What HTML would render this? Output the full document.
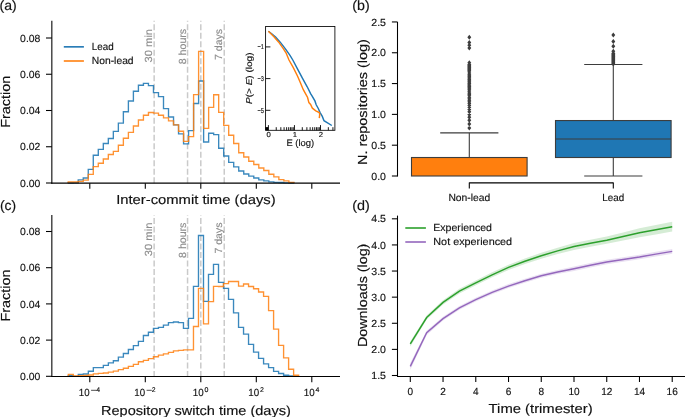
<!DOCTYPE html>
<html><head><meta charset="utf-8"><style>
html,body{margin:0;padding:0;background:#fff;width:685px;height:417px;overflow:hidden}
svg{display:block;will-change:transform}
text{font-family:"Liberation Sans", sans-serif;text-rendering:geometricPrecision}
</style></head><body>
<svg width="685" height="417" viewBox="0 0 685 417">
<rect width="685" height="417" fill="#fff"/>
<text x="-0.50" y="9.50" font-size="13.6" text-anchor="start" fill="#111" stroke="#111" stroke-width="0.15" textLength="17.20" lengthAdjust="spacingAndGlyphs">(a)</text>
<text x="352.30" y="9.50" font-size="13.6" text-anchor="start" fill="#111" stroke="#111" stroke-width="0.15" textLength="17.40" lengthAdjust="spacingAndGlyphs">(b)</text>
<text x="-0.10" y="209.50" font-size="13.6" text-anchor="start" fill="#111" stroke="#111" stroke-width="0.15" textLength="16.20" lengthAdjust="spacingAndGlyphs">(c)</text>
<text x="352.30" y="209.50" font-size="13.6" text-anchor="start" fill="#111" stroke="#111" stroke-width="0.15" textLength="17.60" lengthAdjust="spacingAndGlyphs">(d)</text>
<line x1="154.15" y1="183.13" x2="154.15" y2="20.80" stroke="#cacaca" stroke-width="1.5" stroke-dasharray="6 2.5" stroke-dashoffset="0.0"/>
<line x1="187.56" y1="183.13" x2="187.56" y2="20.80" stroke="#cacaca" stroke-width="1.5" stroke-dasharray="6 2.5" stroke-dashoffset="0.0"/>
<line x1="200.80" y1="183.13" x2="200.80" y2="20.80" stroke="#cacaca" stroke-width="1.5" stroke-dasharray="6 2.5" stroke-dashoffset="0.0"/>
<line x1="224.25" y1="183.13" x2="224.25" y2="20.80" stroke="#cacaca" stroke-width="1.5" stroke-dasharray="6 2.5" stroke-dashoffset="0.0"/>
<text x="152.25" y="28.90" font-size="10.3" text-anchor="end" fill="#8c8c8c" stroke="#8c8c8c" stroke-width="0.15" textLength="33.60" lengthAdjust="spacingAndGlyphs" transform="rotate(-90 152.25 28.90)">30 min</text>
<text x="185.66" y="28.90" font-size="10.3" text-anchor="end" fill="#8c8c8c" stroke="#8c8c8c" stroke-width="0.15" textLength="35.30" lengthAdjust="spacingAndGlyphs" transform="rotate(-90 185.66 28.90)">8 hours</text>
<text x="222.35" y="28.90" font-size="10.3" text-anchor="end" fill="#8c8c8c" stroke="#8c8c8c" stroke-width="0.15" textLength="31.00" lengthAdjust="spacingAndGlyphs" transform="rotate(-90 222.35 28.90)">7 days</text>
<path d="M68.20,183.13 L68.20,183.00 L73.22,183.00 L73.22,182.90 L78.23,182.90 L78.23,179.80 L83.25,179.80 L83.25,178.00 L88.26,178.00 L88.26,169.30 L93.28,169.30 L93.28,155.20 L98.29,155.20 L98.29,149.30 L103.31,149.30 L103.31,143.50 L108.32,143.50 L108.32,138.50 L113.34,138.50 L113.34,131.40 L118.36,131.40 L118.36,123.10 L123.37,123.10 L123.37,111.70 L128.39,111.70 L128.39,101.00 L133.40,101.00 L133.40,91.20 L138.42,91.20 L138.42,85.20 L143.43,85.20 L143.43,83.40 L148.45,83.40 L148.45,85.60 L153.47,85.60 L153.47,92.60 L158.48,92.60 L158.48,96.60 L163.50,96.60 L163.50,108.60 L168.51,108.60 L168.51,117.00 L173.53,117.00 L173.53,124.90 L178.54,124.90 L178.54,133.90 L183.56,133.90 L183.56,143.80 L188.57,143.80 L188.57,130.60 L193.59,130.60 L193.59,103.50 L198.61,103.50 L198.61,81.00 L203.62,81.00 L203.62,142.00 L208.64,142.00 L208.64,133.20 L213.65,133.20 L213.65,134.60 L218.67,134.60 L218.67,148.20 L223.68,148.20 L223.68,156.00 L228.70,156.00 L228.70,162.30 L233.71,162.30 L233.71,166.80 L238.73,166.80 L238.73,171.00 L243.75,171.00 L243.75,174.00 L248.76,174.00 L248.76,176.10 L253.78,176.10 L253.78,178.00 L258.79,178.00 L258.79,179.80 L263.81,179.80 L263.81,180.80 L268.82,180.80 L268.82,181.80 L273.84,181.80 L273.84,182.30 L278.86,182.30 L278.86,182.50 L283.87,182.50 L283.87,182.80 L288.89,182.80 L288.89,183.00 L293.90,183.00 L293.90,183.13" fill="none" stroke="#1f77b4" stroke-width="1.35" stroke-opacity="0.88" stroke-linejoin="miter"/>
<path d="M68.20,183.13 L68.20,182.00 L73.22,182.00 L73.22,182.00 L78.23,182.00 L78.23,181.30 L83.25,181.30 L83.25,180.10 L88.26,180.10 L88.26,174.40 L93.28,174.40 L93.28,166.60 L98.29,166.60 L98.29,163.20 L103.31,163.20 L103.31,159.00 L108.32,159.00 L108.32,154.50 L113.34,154.50 L113.34,151.40 L118.36,151.40 L118.36,145.20 L123.37,145.20 L123.37,138.20 L128.39,138.20 L128.39,132.40 L133.40,132.40 L133.40,126.00 L138.42,126.00 L138.42,120.00 L143.43,120.00 L143.43,115.20 L148.45,115.20 L148.45,112.50 L153.47,112.50 L153.47,113.10 L158.48,113.10 L158.48,115.20 L163.50,115.20 L163.50,117.90 L168.51,117.90 L168.51,120.80 L173.53,120.80 L173.53,124.90 L178.54,124.90 L178.54,131.20 L183.56,131.20 L183.56,141.40 L188.57,141.40 L188.57,136.60 L193.59,136.60 L193.59,94.60 L198.61,94.60 L198.61,51.40 L203.62,51.40 L203.62,128.40 L208.64,128.40 L208.64,107.30 L213.65,107.30 L213.65,94.70 L218.67,94.70 L218.67,112.30 L223.68,112.30 L223.68,125.30 L228.70,125.30 L228.70,135.20 L233.71,135.20 L233.71,143.50 L238.73,143.50 L238.73,152.70 L243.75,152.70 L243.75,157.00 L248.76,157.00 L248.76,161.20 L253.78,161.20 L253.78,164.50 L258.79,164.50 L258.79,168.00 L263.81,168.00 L263.81,170.50 L268.82,170.50 L268.82,174.20 L273.84,174.20 L273.84,176.80 L278.86,176.80 L278.86,179.60 L283.87,179.60 L283.87,180.80 L288.89,180.80 L288.89,182.30 L293.90,182.30 L293.90,183.13" fill="none" stroke="#ff7f0e" stroke-width="1.35" stroke-opacity="0.85" stroke-linejoin="miter"/>
<line x1="51.84" y1="20.80" x2="51.84" y2="183.63" stroke="#000" stroke-width="1.07" />
<line x1="51.30" y1="183.13" x2="340.00" y2="183.13" stroke="#000" stroke-width="1.07" />
<line x1="46.00" y1="183.00" x2="51.84" y2="183.00" stroke="#000" stroke-width="1.07" />
<text x="40.40" y="186.60" font-size="10.3" text-anchor="end" fill="#111" stroke="#111" stroke-width="0.15" textLength="20.30" lengthAdjust="spacingAndGlyphs">0.00</text>
<line x1="46.00" y1="146.75" x2="51.84" y2="146.75" stroke="#000" stroke-width="1.07" />
<text x="40.40" y="150.35" font-size="10.3" text-anchor="end" fill="#111" stroke="#111" stroke-width="0.15" textLength="20.30" lengthAdjust="spacingAndGlyphs">0.02</text>
<line x1="46.00" y1="110.50" x2="51.84" y2="110.50" stroke="#000" stroke-width="1.07" />
<text x="40.40" y="114.10" font-size="10.3" text-anchor="end" fill="#111" stroke="#111" stroke-width="0.15" textLength="20.30" lengthAdjust="spacingAndGlyphs">0.04</text>
<line x1="46.00" y1="74.25" x2="51.84" y2="74.25" stroke="#000" stroke-width="1.07" />
<text x="40.40" y="77.85" font-size="10.3" text-anchor="end" fill="#111" stroke="#111" stroke-width="0.15" textLength="20.30" lengthAdjust="spacingAndGlyphs">0.06</text>
<line x1="46.00" y1="38.00" x2="51.84" y2="38.00" stroke="#000" stroke-width="1.07" />
<text x="40.40" y="41.60" font-size="10.3" text-anchor="end" fill="#111" stroke="#111" stroke-width="0.15" textLength="20.30" lengthAdjust="spacingAndGlyphs">0.08</text>
<line x1="89.80" y1="183.13" x2="89.80" y2="188.83" stroke="#000" stroke-width="1.07" />
<line x1="145.30" y1="183.13" x2="145.30" y2="188.83" stroke="#000" stroke-width="1.07" />
<line x1="200.80" y1="183.13" x2="200.80" y2="188.83" stroke="#000" stroke-width="1.07" />
<line x1="256.30" y1="183.13" x2="256.30" y2="188.83" stroke="#000" stroke-width="1.07" />
<line x1="311.80" y1="183.13" x2="311.80" y2="188.83" stroke="#000" stroke-width="1.07" />
<text x="10.20" y="101.75" font-size="13.1" text-anchor="middle" fill="#111" stroke="#111" stroke-width="0.15" textLength="52.00" lengthAdjust="spacingAndGlyphs" transform="rotate(-90 10.20 101.75)">Fraction</text>
<text x="195.90" y="203.90" font-size="13.1" text-anchor="middle" fill="#111" stroke="#111" stroke-width="0.15" textLength="159.50" lengthAdjust="spacingAndGlyphs">Inter-commit time (days)</text>
<line x1="63.80" y1="46.85" x2="83.90" y2="46.85" stroke="#1f77b4" stroke-width="1.6" />
<line x1="63.80" y1="61.00" x2="83.90" y2="61.00" stroke="#ff7f0e" stroke-width="1.6" />
<text x="91.80" y="50.00" font-size="10.3" text-anchor="start" fill="#111" stroke="#111" stroke-width="0.15" textLength="21.90" lengthAdjust="spacingAndGlyphs">Lead</text>
<text x="91.80" y="64.30" font-size="10.3" text-anchor="start" fill="#111" stroke="#111" stroke-width="0.15" textLength="41.80" lengthAdjust="spacingAndGlyphs">Non-lead</text>
<rect x="265.6" y="26.5" width="69.29999999999995" height="103.80000000000001" fill="white" stroke="#000" stroke-width="0.85"/>
<polyline points="268.40,31.20 272.00,34.00 275.60,37.10 280.40,42.40 285.20,48.60 290.00,55.30 292.80,60.00 297.60,69.10 302.40,78.20 307.20,86.80 310.60,93.60 312.00,95.80 314.90,100.90 316.20,104.80 318.40,108.70 320.10,112.60 322.30,116.40 324.00,120.70 331.80,125.50" fill="none" stroke="#1f77b4" stroke-width="1.45"/>
<polyline points="268.40,31.20 273.70,36.60 278.50,41.90 283.30,48.60 286.00,52.80 289.00,60.00 293.30,67.70 297.60,76.30 300.50,83.00 303.30,89.70 305.50,93.60 307.60,97.50 308.90,102.60 310.60,104.40 312.40,108.20 315.80,110.80 319.30,112.60 319.70,114.70 319.30,118.20" fill="none" stroke="#ff7f0e" stroke-width="1.45"/>
<line x1="265.60" y1="46.90" x2="270.40" y2="46.90" stroke="#000" stroke-width="0.9" />
<text x="263.90" y="49.40" font-size="7.0" text-anchor="end" fill="#111" stroke="#111" stroke-width="0.15" textLength="6.40" lengthAdjust="spacingAndGlyphs">−1</text>
<line x1="265.60" y1="78.60" x2="270.40" y2="78.60" stroke="#000" stroke-width="0.9" />
<text x="263.90" y="81.10" font-size="7.0" text-anchor="end" fill="#111" stroke="#111" stroke-width="0.15" textLength="6.40" lengthAdjust="spacingAndGlyphs">−3</text>
<line x1="265.60" y1="110.30" x2="270.40" y2="110.30" stroke="#000" stroke-width="0.9" />
<text x="263.90" y="112.80" font-size="7.0" text-anchor="end" fill="#111" stroke="#111" stroke-width="0.15" textLength="6.40" lengthAdjust="spacingAndGlyphs">−5</text>
<line x1="268.40" y1="130.30" x2="268.40" y2="125.10" stroke="#000" stroke-width="0.9" />
<text x="268.75" y="137.10" font-size="7.3" text-anchor="middle" fill="#111" stroke="#111" stroke-width="0.15" textLength="4.30" lengthAdjust="spacingAndGlyphs">0</text>
<line x1="294.45" y1="130.30" x2="294.45" y2="125.10" stroke="#000" stroke-width="0.9" />
<text x="294.80" y="137.10" font-size="7.3" text-anchor="middle" fill="#111" stroke="#111" stroke-width="0.15" textLength="4.30" lengthAdjust="spacingAndGlyphs">1</text>
<line x1="320.50" y1="130.30" x2="320.50" y2="125.10" stroke="#000" stroke-width="0.9" />
<text x="320.85" y="137.10" font-size="7.3" text-anchor="middle" fill="#111" stroke="#111" stroke-width="0.15" textLength="4.30" lengthAdjust="spacingAndGlyphs">2</text>
<line x1="265.88" y1="130.30" x2="265.88" y2="127.20" stroke="#000" stroke-width="0.9" />
<line x1="267.21" y1="130.30" x2="267.21" y2="127.20" stroke="#000" stroke-width="0.9" />
<line x1="276.24" y1="130.30" x2="276.24" y2="127.20" stroke="#000" stroke-width="0.9" />
<line x1="280.83" y1="130.30" x2="280.83" y2="127.20" stroke="#000" stroke-width="0.9" />
<line x1="284.08" y1="130.30" x2="284.08" y2="127.20" stroke="#000" stroke-width="0.9" />
<line x1="286.61" y1="130.30" x2="286.61" y2="127.20" stroke="#000" stroke-width="0.9" />
<line x1="288.67" y1="130.30" x2="288.67" y2="127.20" stroke="#000" stroke-width="0.9" />
<line x1="290.41" y1="130.30" x2="290.41" y2="127.20" stroke="#000" stroke-width="0.9" />
<line x1="291.93" y1="130.30" x2="291.93" y2="127.20" stroke="#000" stroke-width="0.9" />
<line x1="293.26" y1="130.30" x2="293.26" y2="127.20" stroke="#000" stroke-width="0.9" />
<line x1="302.29" y1="130.30" x2="302.29" y2="127.20" stroke="#000" stroke-width="0.9" />
<line x1="306.88" y1="130.30" x2="306.88" y2="127.20" stroke="#000" stroke-width="0.9" />
<line x1="310.13" y1="130.30" x2="310.13" y2="127.20" stroke="#000" stroke-width="0.9" />
<line x1="312.66" y1="130.30" x2="312.66" y2="127.20" stroke="#000" stroke-width="0.9" />
<line x1="314.72" y1="130.30" x2="314.72" y2="127.20" stroke="#000" stroke-width="0.9" />
<line x1="316.46" y1="130.30" x2="316.46" y2="127.20" stroke="#000" stroke-width="0.9" />
<line x1="317.98" y1="130.30" x2="317.98" y2="127.20" stroke="#000" stroke-width="0.9" />
<line x1="319.31" y1="130.30" x2="319.31" y2="127.20" stroke="#000" stroke-width="0.9" />
<line x1="328.34" y1="130.30" x2="328.34" y2="127.20" stroke="#000" stroke-width="0.9" />
<line x1="332.93" y1="130.30" x2="332.93" y2="127.20" stroke="#000" stroke-width="0.9" />
<rect x="265.8" y="127.20" width="2.6" height="3.1" fill="#000"/>
<text x="300.30" y="146.00" font-size="9.3" text-anchor="middle" fill="#111" stroke="#111" stroke-width="0.15" textLength="27.80" lengthAdjust="spacingAndGlyphs">E (log)</text>
<text x="252.30" y="78.20" font-size="8.6" text-anchor="middle" fill="#111" stroke="#111" stroke-width="0.15" textLength="51.50" lengthAdjust="spacingAndGlyphs" transform="rotate(-90 252.30 78.20)"><tspan font-style="italic">P</tspan>(&gt; <tspan font-style="italic">E</tspan>) (log)</text>
<line x1="154.15" y1="376.45" x2="154.15" y2="215.00" stroke="#cacaca" stroke-width="1.5" stroke-dasharray="6 2.5" stroke-dashoffset="0.6"/>
<line x1="187.56" y1="376.45" x2="187.56" y2="215.00" stroke="#cacaca" stroke-width="1.5" stroke-dasharray="6 2.5" stroke-dashoffset="0.6"/>
<line x1="200.80" y1="376.45" x2="200.80" y2="215.00" stroke="#cacaca" stroke-width="1.5" stroke-dasharray="6 2.5" stroke-dashoffset="0.6"/>
<line x1="224.25" y1="376.45" x2="224.25" y2="215.00" stroke="#cacaca" stroke-width="1.5" stroke-dasharray="6 2.5" stroke-dashoffset="0.6"/>
<text x="152.25" y="222.60" font-size="10.3" text-anchor="end" fill="#8c8c8c" stroke="#8c8c8c" stroke-width="0.15" textLength="33.60" lengthAdjust="spacingAndGlyphs" transform="rotate(-90 152.25 222.60)">30 min</text>
<text x="185.66" y="222.60" font-size="10.3" text-anchor="end" fill="#8c8c8c" stroke="#8c8c8c" stroke-width="0.15" textLength="35.30" lengthAdjust="spacingAndGlyphs" transform="rotate(-90 185.66 222.60)">8 hours</text>
<text x="222.35" y="222.60" font-size="10.3" text-anchor="end" fill="#8c8c8c" stroke="#8c8c8c" stroke-width="0.15" textLength="31.00" lengthAdjust="spacingAndGlyphs" transform="rotate(-90 222.35 222.60)">7 days</text>
<path d="M68.30,376.45 L68.30,375.60 L73.31,375.60 L73.31,376.30 L78.31,376.30 L78.31,374.40 L83.32,374.40 L83.32,374.00 L88.33,374.00 L88.33,371.20 L93.33,371.20 L93.33,367.60 L98.34,367.60 L98.34,367.60 L103.35,367.60 L103.35,365.40 L108.36,365.40 L108.36,362.90 L113.36,362.90 L113.36,360.70 L118.37,360.70 L118.37,357.10 L123.38,357.10 L123.38,353.50 L128.38,353.50 L128.38,349.50 L133.39,349.50 L133.39,345.60 L138.40,345.60 L138.40,341.30 L143.40,341.30 L143.40,335.50 L148.41,335.50 L148.41,332.20 L153.42,332.20 L153.42,328.30 L158.43,328.30 L158.43,327.40 L163.43,327.40 L163.43,325.10 L168.44,325.10 L168.44,322.60 L173.45,322.60 L173.45,322.00 L178.45,322.00 L178.45,322.60 L183.46,322.60 L183.46,328.30 L188.47,328.30 L188.47,318.40 L193.47,318.40 L193.47,286.30 L198.48,286.30 L198.48,235.50 L203.49,235.50 L203.49,301.40 L208.50,301.40 L208.50,274.40 L213.50,274.40 L213.50,264.30 L218.51,264.30 L218.51,282.40 L223.52,282.40 L223.52,288.30 L228.52,288.30 L228.52,299.40 L233.53,299.40 L233.53,312.90 L238.54,312.90 L238.54,327.30 L243.54,327.30 L243.54,334.10 L248.55,334.10 L248.55,344.40 L253.56,344.40 L253.56,352.10 L258.57,352.10 L258.57,358.40 L263.57,358.40 L263.57,363.80 L268.58,363.80 L268.58,367.60 L273.59,367.60 L273.59,371.40 L278.59,371.40 L278.59,373.50 L283.60,373.50 L283.60,375.20 L288.61,375.20 L288.61,376.00 L293.62,376.00 L293.62,376.30 L298.62,376.30 L298.62,376.45" fill="none" stroke="#1f77b4" stroke-width="1.35" stroke-opacity="0.88" stroke-linejoin="miter"/>
<path d="M68.30,376.45 L68.30,374.30 L73.31,374.30 L73.31,375.80 L78.31,375.80 L78.31,375.60 L83.32,375.60 L83.32,375.50 L88.33,375.50 L88.33,375.00 L93.33,375.00 L93.33,373.80 L98.34,373.80 L98.34,373.40 L103.35,373.40 L103.35,373.00 L108.36,373.00 L108.36,372.10 L113.36,372.10 L113.36,371.10 L118.37,371.10 L118.37,369.60 L123.38,369.60 L123.38,368.20 L128.38,368.20 L128.38,366.30 L133.39,366.30 L133.39,364.30 L138.40,364.30 L138.40,361.70 L143.40,361.70 L143.40,360.30 L148.41,360.30 L148.41,358.60 L153.42,358.60 L153.42,356.70 L158.43,356.70 L158.43,355.10 L163.43,355.10 L163.43,353.80 L168.44,353.80 L168.44,352.30 L173.45,352.30 L173.45,350.90 L178.45,350.90 L178.45,350.30 L183.46,350.30 L183.46,349.80 L188.47,349.80 L188.47,349.80 L193.47,349.80 L193.47,326.50 L198.48,326.50 L198.48,288.30 L203.49,288.30 L203.49,323.80 L208.50,323.80 L208.50,301.60 L213.50,301.60 L213.50,286.30 L218.51,286.30 L218.51,286.50 L223.52,286.50 L223.52,283.60 L228.52,283.60 L228.52,281.50 L233.53,281.50 L233.53,281.50 L238.54,281.50 L238.54,286.10 L243.54,286.10 L243.54,284.00 L248.55,284.00 L248.55,286.50 L253.56,286.50 L253.56,288.70 L258.57,288.70 L258.57,292.00 L263.57,292.00 L263.57,296.30 L268.58,296.30 L268.58,310.60 L273.59,310.60 L273.59,329.10 L278.59,329.10 L278.59,345.40 L283.60,345.40 L283.60,357.80 L288.61,357.80 L288.61,369.20 L293.62,369.20 L293.62,375.20 L298.62,375.20 L298.62,376.45" fill="none" stroke="#ff7f0e" stroke-width="1.35" stroke-opacity="0.85" stroke-linejoin="miter"/>
<line x1="51.84" y1="215.00" x2="51.84" y2="376.95" stroke="#000" stroke-width="1.07" />
<line x1="51.30" y1="376.45" x2="340.00" y2="376.45" stroke="#000" stroke-width="1.07" />
<line x1="46.00" y1="376.30" x2="51.84" y2="376.30" stroke="#000" stroke-width="1.07" />
<text x="40.40" y="379.90" font-size="10.3" text-anchor="end" fill="#111" stroke="#111" stroke-width="0.15" textLength="20.30" lengthAdjust="spacingAndGlyphs">0.00</text>
<line x1="46.00" y1="340.10" x2="51.84" y2="340.10" stroke="#000" stroke-width="1.07" />
<text x="40.40" y="343.70" font-size="10.3" text-anchor="end" fill="#111" stroke="#111" stroke-width="0.15" textLength="20.30" lengthAdjust="spacingAndGlyphs">0.02</text>
<line x1="46.00" y1="303.90" x2="51.84" y2="303.90" stroke="#000" stroke-width="1.07" />
<text x="40.40" y="307.50" font-size="10.3" text-anchor="end" fill="#111" stroke="#111" stroke-width="0.15" textLength="20.30" lengthAdjust="spacingAndGlyphs">0.04</text>
<line x1="46.00" y1="267.70" x2="51.84" y2="267.70" stroke="#000" stroke-width="1.07" />
<text x="40.40" y="271.30" font-size="10.3" text-anchor="end" fill="#111" stroke="#111" stroke-width="0.15" textLength="20.30" lengthAdjust="spacingAndGlyphs">0.06</text>
<line x1="46.00" y1="231.50" x2="51.84" y2="231.50" stroke="#000" stroke-width="1.07" />
<text x="40.40" y="235.10" font-size="10.3" text-anchor="end" fill="#111" stroke="#111" stroke-width="0.15" textLength="20.30" lengthAdjust="spacingAndGlyphs">0.08</text>
<line x1="89.80" y1="376.45" x2="89.80" y2="382.15" stroke="#000" stroke-width="1.07" />
<line x1="145.30" y1="376.45" x2="145.30" y2="382.15" stroke="#000" stroke-width="1.07" />
<line x1="200.80" y1="376.45" x2="200.80" y2="382.15" stroke="#000" stroke-width="1.07" />
<line x1="256.30" y1="376.45" x2="256.30" y2="382.15" stroke="#000" stroke-width="1.07" />
<line x1="311.80" y1="376.45" x2="311.80" y2="382.15" stroke="#000" stroke-width="1.07" />
<text x="10.20" y="295.60" font-size="13.1" text-anchor="middle" fill="#111" stroke="#111" stroke-width="0.15" textLength="52.00" lengthAdjust="spacingAndGlyphs" transform="rotate(-90 10.20 295.60)">Fraction</text>
<text x="195.90" y="414.90" font-size="13.1" text-anchor="middle" fill="#111" stroke="#111" stroke-width="0.15" textLength="189.80" lengthAdjust="spacingAndGlyphs">Repository switch time (days)</text>
<text x="78.80" y="395.90" font-size="10.3" text-anchor="start" fill="#111" stroke="#111" stroke-width="0.15" textLength="10.80" lengthAdjust="spacingAndGlyphs">10</text>
<line x1="91.10" y1="390.30" x2="96.30" y2="390.30" stroke="#111" stroke-width="0.75" />
<text x="96.20" y="392.00" font-size="6.9" text-anchor="start" fill="#111" stroke="#111" stroke-width="0.15" textLength="3.80" lengthAdjust="spacingAndGlyphs">4</text>
<text x="134.30" y="395.90" font-size="10.3" text-anchor="start" fill="#111" stroke="#111" stroke-width="0.15" textLength="10.80" lengthAdjust="spacingAndGlyphs">10</text>
<line x1="146.60" y1="390.30" x2="151.80" y2="390.30" stroke="#111" stroke-width="0.75" />
<text x="151.70" y="392.00" font-size="6.9" text-anchor="start" fill="#111" stroke="#111" stroke-width="0.15" textLength="3.80" lengthAdjust="spacingAndGlyphs">2</text>
<text x="192.70" y="395.90" font-size="10.3" text-anchor="start" fill="#111" stroke="#111" stroke-width="0.15" textLength="10.90" lengthAdjust="spacingAndGlyphs">10</text>
<text x="204.60" y="392.30" font-size="6.9" text-anchor="start" fill="#111" stroke="#111" stroke-width="0.15" textLength="3.90" lengthAdjust="spacingAndGlyphs">0</text>
<text x="248.20" y="395.90" font-size="10.3" text-anchor="start" fill="#111" stroke="#111" stroke-width="0.15" textLength="10.90" lengthAdjust="spacingAndGlyphs">10</text>
<text x="260.10" y="392.30" font-size="6.9" text-anchor="start" fill="#111" stroke="#111" stroke-width="0.15" textLength="3.90" lengthAdjust="spacingAndGlyphs">2</text>
<text x="303.70" y="395.90" font-size="10.3" text-anchor="start" fill="#111" stroke="#111" stroke-width="0.15" textLength="10.90" lengthAdjust="spacingAndGlyphs">10</text>
<text x="315.60" y="392.30" font-size="6.9" text-anchor="start" fill="#111" stroke="#111" stroke-width="0.15" textLength="3.90" lengthAdjust="spacingAndGlyphs">4</text>
<line x1="397.50" y1="21.95" x2="397.50" y2="176.50" stroke="#000" stroke-width="1.07" />
<line x1="391.90" y1="176.00" x2="397.50" y2="176.00" stroke="#000" stroke-width="1.07" />
<text x="386.00" y="179.60" font-size="10.3" text-anchor="end" fill="#111" stroke="#111" stroke-width="0.15" textLength="14.70" lengthAdjust="spacingAndGlyphs">0.0</text>
<line x1="391.90" y1="145.19" x2="397.50" y2="145.19" stroke="#000" stroke-width="1.07" />
<text x="386.00" y="148.79" font-size="10.3" text-anchor="end" fill="#111" stroke="#111" stroke-width="0.15" textLength="14.70" lengthAdjust="spacingAndGlyphs">0.5</text>
<line x1="391.90" y1="114.38" x2="397.50" y2="114.38" stroke="#000" stroke-width="1.07" />
<text x="386.00" y="117.98" font-size="10.3" text-anchor="end" fill="#111" stroke="#111" stroke-width="0.15" textLength="14.70" lengthAdjust="spacingAndGlyphs">1.0</text>
<line x1="391.90" y1="83.57" x2="397.50" y2="83.57" stroke="#000" stroke-width="1.07" />
<text x="386.00" y="87.17" font-size="10.3" text-anchor="end" fill="#111" stroke="#111" stroke-width="0.15" textLength="14.70" lengthAdjust="spacingAndGlyphs">1.5</text>
<line x1="391.90" y1="52.76" x2="397.50" y2="52.76" stroke="#000" stroke-width="1.07" />
<text x="386.00" y="56.36" font-size="10.3" text-anchor="end" fill="#111" stroke="#111" stroke-width="0.15" textLength="14.70" lengthAdjust="spacingAndGlyphs">2.0</text>
<line x1="391.90" y1="21.95" x2="397.50" y2="21.95" stroke="#000" stroke-width="1.07" />
<text x="386.00" y="25.55" font-size="10.3" text-anchor="end" fill="#111" stroke="#111" stroke-width="0.15" textLength="14.70" lengthAdjust="spacingAndGlyphs">2.5</text>
<line x1="469.30" y1="182.90" x2="613.30" y2="182.90" stroke="#000" stroke-width="1.07" />
<line x1="469.30" y1="182.40" x2="469.30" y2="188.50" stroke="#000" stroke-width="1.07" />
<line x1="613.30" y1="182.40" x2="613.30" y2="188.50" stroke="#000" stroke-width="1.07" />
<text x="469.30" y="201.30" font-size="10.3" text-anchor="middle" fill="#111" stroke="#111" stroke-width="0.15" textLength="41.80" lengthAdjust="spacingAndGlyphs">Non-lead</text>
<text x="613.30" y="201.30" font-size="10.3" text-anchor="middle" fill="#111" stroke="#111" stroke-width="0.15" textLength="21.90" lengthAdjust="spacingAndGlyphs">Lead</text>
<text x="366.90" y="102.05" font-size="13.1" text-anchor="middle" fill="#111" stroke="#111" stroke-width="0.15" textLength="125.80" lengthAdjust="spacingAndGlyphs" transform="rotate(-90 366.90 102.05)">N. repositories (log)</text>
<rect x="411.5" y="157.51" width="115.6" height="18.49" fill="#ff7f0e" stroke="#3d3d3d" stroke-width="1.1"/>
<line x1="469.30" y1="157.51" x2="469.30" y2="132.87" stroke="#3d3d3d" stroke-width="1.1" />
<line x1="440.20" y1="132.87" x2="498.40" y2="132.87" stroke="#3d3d3d" stroke-width="1.1" />
<rect x="555.5" y="120.54" width="115.6" height="36.97" fill="#1f77b4" stroke="#3d3d3d" stroke-width="1.1"/>
<line x1="555.50" y1="139.03" x2="671.10" y2="139.03" stroke="#3d3d3d" stroke-width="1.1" />
<line x1="613.30" y1="120.54" x2="613.30" y2="64.47" stroke="#3d3d3d" stroke-width="1.1" />
<line x1="613.30" y1="157.51" x2="613.30" y2="176.00" stroke="#3d3d3d" stroke-width="1.1" />
<line x1="584.20" y1="64.47" x2="642.40" y2="64.47" stroke="#3d3d3d" stroke-width="1.1" />
<line x1="584.20" y1="176.00" x2="642.40" y2="176.00" stroke="#3d3d3d" stroke-width="1.1" />
<path d="M469.30,125.55 L471.25,128.05 L469.30,130.55 L467.35,128.05 Z M469.30,121.43 L471.25,123.93 L469.30,126.43 L467.35,123.93 Z M469.30,117.85 L471.25,120.35 L469.30,122.85 L467.35,120.35 Z M469.30,114.70 L471.25,117.20 L469.30,119.70 L467.35,117.20 Z M469.30,111.88 L471.25,114.38 L469.30,116.88 L467.35,114.38 Z M469.30,109.33 L471.25,111.83 L469.30,114.33 L467.35,111.83 Z M469.30,107.00 L471.25,109.50 L469.30,112.00 L467.35,109.50 Z M469.30,104.86 L471.25,107.36 L469.30,109.86 L467.35,107.36 Z M469.30,102.88 L471.25,105.38 L469.30,107.88 L467.35,105.38 Z M469.30,101.03 L471.25,103.53 L469.30,106.03 L467.35,103.53 Z M469.30,99.30 L471.25,101.80 L469.30,104.30 L467.35,101.80 Z M469.30,97.68 L471.25,100.18 L469.30,102.68 L467.35,100.18 Z M469.30,96.15 L471.25,98.65 L469.30,101.15 L467.35,98.65 Z M469.30,94.70 L471.25,97.20 L469.30,99.70 L467.35,97.20 Z M469.30,93.33 L471.25,95.83 L469.30,98.33 L467.35,95.83 Z M469.30,92.02 L471.25,94.52 L469.30,97.02 L467.35,94.52 Z M469.30,90.78 L471.25,93.28 L469.30,95.78 L467.35,93.28 Z M469.30,89.59 L471.25,92.09 L469.30,94.59 L467.35,92.09 Z M469.30,88.45 L471.25,90.95 L469.30,93.45 L467.35,90.95 Z M469.30,87.36 L471.25,89.86 L469.30,92.36 L467.35,89.86 Z M469.30,86.31 L471.25,88.81 L469.30,91.31 L467.35,88.81 Z M469.30,85.30 L471.25,87.80 L469.30,90.30 L467.35,87.80 Z M469.30,84.33 L471.25,86.83 L469.30,89.33 L467.35,86.83 Z M469.30,83.39 L471.25,85.89 L469.30,88.39 L467.35,85.89 Z M469.30,82.48 L471.25,84.98 L469.30,87.48 L467.35,84.98 Z M469.30,81.60 L471.25,84.10 L469.30,86.60 L467.35,84.10 Z M469.30,80.75 L471.25,83.25 L469.30,85.75 L467.35,83.25 Z M469.30,79.93 L471.25,82.43 L469.30,84.93 L467.35,82.43 Z M469.30,79.13 L471.25,81.63 L469.30,84.13 L467.35,81.63 Z M469.30,78.35 L471.25,80.85 L469.30,83.35 L467.35,80.85 Z M469.30,77.60 L471.25,80.10 L469.30,82.60 L467.35,80.10 Z M469.30,76.87 L471.25,79.37 L469.30,81.87 L467.35,79.37 Z M469.30,76.15 L471.25,78.65 L469.30,81.15 L467.35,78.65 Z M469.30,74.78 L471.25,77.28 L469.30,79.78 L467.35,77.28 Z M469.30,74.12 L471.25,76.62 L469.30,79.12 L467.35,76.62 Z M469.30,72.85 L471.25,75.35 L469.30,77.85 L467.35,75.35 Z M469.30,71.63 L471.25,74.13 L469.30,76.63 L467.35,74.13 Z M469.30,70.47 L471.25,72.97 L469.30,75.47 L467.35,72.97 Z M469.30,69.35 L471.25,71.85 L469.30,74.35 L467.35,71.85 Z M469.30,68.28 L471.25,70.78 L469.30,73.28 L467.35,70.78 Z M469.30,67.76 L471.25,70.26 L469.30,72.76 L467.35,70.26 Z M469.30,67.25 L471.25,69.75 L469.30,72.25 L467.35,69.75 Z M469.30,66.75 L471.25,69.25 L469.30,71.75 L467.35,69.25 Z M469.30,66.26 L471.25,68.76 L469.30,71.26 L467.35,68.76 Z M469.30,65.78 L471.25,68.28 L469.30,70.78 L467.35,68.28 Z M469.30,65.30 L471.25,67.80 L469.30,70.30 L467.35,67.80 Z M469.30,64.84 L471.25,67.34 L469.30,69.84 L467.35,67.34 Z M469.30,64.38 L471.25,66.88 L469.30,69.38 L467.35,66.88 Z M469.30,63.93 L471.25,66.43 L469.30,68.93 L467.35,66.43 Z M469.30,63.49 L471.25,65.99 L469.30,68.49 L467.35,65.99 Z M469.30,63.05 L471.25,65.55 L469.30,68.05 L467.35,65.55 Z M469.30,62.62 L471.25,65.12 L469.30,67.62 L467.35,65.12 Z M469.30,62.20 L471.25,64.70 L469.30,67.20 L467.35,64.70 Z M469.30,61.79 L471.25,64.29 L469.30,66.79 L467.35,64.29 Z M469.30,60.19 L471.25,62.69 L469.30,65.19 L467.35,62.69 Z M469.30,45.60 L471.25,48.10 L469.30,50.60 L467.35,48.10 Z M469.30,42.83 L471.25,45.33 L469.30,47.83 L467.35,45.33 Z M469.30,39.95 L471.25,42.45 L469.30,44.95 L467.35,42.45 Z M469.30,34.68 L471.25,37.18 L469.30,39.68 L467.35,37.18 Z M613.30,61.38 L615.25,63.88 L613.30,66.38 L611.35,63.88 Z M613.30,60.98 L615.25,63.48 L613.30,65.98 L611.35,63.48 Z M613.30,60.58 L615.25,63.08 L613.30,65.58 L611.35,63.08 Z M613.30,60.19 L615.25,62.69 L613.30,65.19 L611.35,62.69 Z M613.30,59.81 L615.25,62.31 L613.30,64.81 L611.35,62.31 Z M613.30,59.43 L615.25,61.93 L613.30,64.43 L611.35,61.93 Z M613.30,59.05 L615.25,61.55 L613.30,64.05 L611.35,61.55 Z M613.30,58.68 L615.25,61.18 L613.30,63.68 L611.35,61.18 Z M613.30,58.32 L615.25,60.82 L613.30,63.32 L611.35,60.82 Z M613.30,57.96 L615.25,60.46 L613.30,62.96 L611.35,60.46 Z M613.30,57.60 L615.25,60.10 L613.30,62.60 L611.35,60.10 Z M613.30,57.25 L615.25,59.75 L613.30,62.25 L611.35,59.75 Z M613.30,56.91 L615.25,59.41 L613.30,61.91 L611.35,59.41 Z M613.30,56.57 L615.25,59.07 L613.30,61.57 L611.35,59.07 Z M613.30,56.23 L615.25,58.73 L613.30,61.23 L611.35,58.73 Z M613.30,55.90 L615.25,58.40 L613.30,60.90 L611.35,58.40 Z M613.30,55.57 L615.25,58.07 L613.30,60.57 L611.35,58.07 Z M613.30,55.25 L615.25,57.75 L613.30,60.25 L611.35,57.75 Z M613.30,54.93 L615.25,57.43 L613.30,59.93 L611.35,57.43 Z M613.30,54.61 L615.25,57.11 L613.30,59.61 L611.35,57.11 Z M613.30,54.30 L615.25,56.80 L613.30,59.30 L611.35,56.80 Z M613.30,53.99 L615.25,56.49 L613.30,58.99 L611.35,56.49 Z M613.30,53.68 L615.25,56.18 L613.30,58.68 L611.35,56.18 Z M613.30,53.38 L615.25,55.88 L613.30,58.38 L611.35,55.88 Z M613.30,53.08 L615.25,55.58 L613.30,58.08 L611.35,55.58 Z M613.30,52.78 L615.25,55.28 L613.30,57.78 L611.35,55.28 Z M613.30,52.49 L615.25,54.99 L613.30,57.49 L611.35,54.99 Z M613.30,52.20 L615.25,54.70 L613.30,57.20 L611.35,54.70 Z M613.30,51.92 L615.25,54.42 L613.30,56.92 L611.35,54.42 Z M613.30,51.63 L615.25,54.13 L613.30,56.63 L611.35,54.13 Z M613.30,51.35 L615.25,53.85 L613.30,56.35 L611.35,53.85 Z M613.30,51.08 L615.25,53.58 L613.30,56.08 L611.35,53.58 Z M613.30,50.80 L615.25,53.30 L613.30,55.80 L611.35,53.30 Z M613.30,48.70 L615.25,51.20 L613.30,53.70 L611.35,51.20 Z M613.30,43.65 L615.25,46.15 L613.30,48.65 L611.35,46.15 Z M613.30,39.05 L615.25,41.55 L613.30,44.05 L611.35,41.55 Z M613.30,32.53 L615.25,35.03 L613.30,37.53 L611.35,35.03 Z" fill="#3d3d3d" stroke="none"/>
<line x1="397.50" y1="215.60" x2="397.50" y2="376.80" stroke="#000" stroke-width="1.07" />
<line x1="397.00" y1="376.45" x2="685.00" y2="376.45" stroke="#000" stroke-width="1.07" />
<line x1="391.90" y1="375.50" x2="397.50" y2="375.50" stroke="#000" stroke-width="1.07" />
<text x="386.00" y="379.10" font-size="10.3" text-anchor="end" fill="#111" stroke="#111" stroke-width="0.15" textLength="14.70" lengthAdjust="spacingAndGlyphs">1.5</text>
<line x1="391.90" y1="349.38" x2="397.50" y2="349.38" stroke="#000" stroke-width="1.07" />
<text x="386.00" y="352.99" font-size="10.3" text-anchor="end" fill="#111" stroke="#111" stroke-width="0.15" textLength="14.70" lengthAdjust="spacingAndGlyphs">2.0</text>
<line x1="391.90" y1="323.27" x2="397.50" y2="323.27" stroke="#000" stroke-width="1.07" />
<text x="386.00" y="326.87" font-size="10.3" text-anchor="end" fill="#111" stroke="#111" stroke-width="0.15" textLength="14.70" lengthAdjust="spacingAndGlyphs">2.5</text>
<line x1="391.90" y1="297.15" x2="397.50" y2="297.15" stroke="#000" stroke-width="1.07" />
<text x="386.00" y="300.75" font-size="10.3" text-anchor="end" fill="#111" stroke="#111" stroke-width="0.15" textLength="14.70" lengthAdjust="spacingAndGlyphs">3.0</text>
<line x1="391.90" y1="271.04" x2="397.50" y2="271.04" stroke="#000" stroke-width="1.07" />
<text x="386.00" y="274.64" font-size="10.3" text-anchor="end" fill="#111" stroke="#111" stroke-width="0.15" textLength="14.70" lengthAdjust="spacingAndGlyphs">3.5</text>
<line x1="391.90" y1="244.93" x2="397.50" y2="244.93" stroke="#000" stroke-width="1.07" />
<text x="386.00" y="248.53" font-size="10.3" text-anchor="end" fill="#111" stroke="#111" stroke-width="0.15" textLength="14.70" lengthAdjust="spacingAndGlyphs">4.0</text>
<line x1="391.90" y1="218.81" x2="397.50" y2="218.81" stroke="#000" stroke-width="1.07" />
<text x="386.00" y="222.41" font-size="10.3" text-anchor="end" fill="#111" stroke="#111" stroke-width="0.15" textLength="14.70" lengthAdjust="spacingAndGlyphs">4.5</text>
<line x1="410.30" y1="376.45" x2="410.30" y2="382.00" stroke="#000" stroke-width="1.07" />
<text x="410.30" y="395.20" font-size="10.3" text-anchor="middle" fill="#111" stroke="#111" stroke-width="0.15" textLength="5.60" lengthAdjust="spacingAndGlyphs">0</text>
<line x1="443.04" y1="376.45" x2="443.04" y2="382.00" stroke="#000" stroke-width="1.07" />
<text x="443.04" y="395.20" font-size="10.3" text-anchor="middle" fill="#111" stroke="#111" stroke-width="0.15" textLength="5.60" lengthAdjust="spacingAndGlyphs">2</text>
<line x1="475.78" y1="376.45" x2="475.78" y2="382.00" stroke="#000" stroke-width="1.07" />
<text x="475.78" y="395.20" font-size="10.3" text-anchor="middle" fill="#111" stroke="#111" stroke-width="0.15" textLength="5.60" lengthAdjust="spacingAndGlyphs">4</text>
<line x1="508.52" y1="376.45" x2="508.52" y2="382.00" stroke="#000" stroke-width="1.07" />
<text x="508.52" y="395.20" font-size="10.3" text-anchor="middle" fill="#111" stroke="#111" stroke-width="0.15" textLength="5.60" lengthAdjust="spacingAndGlyphs">6</text>
<line x1="541.26" y1="376.45" x2="541.26" y2="382.00" stroke="#000" stroke-width="1.07" />
<text x="541.26" y="395.20" font-size="10.3" text-anchor="middle" fill="#111" stroke="#111" stroke-width="0.15" textLength="5.60" lengthAdjust="spacingAndGlyphs">8</text>
<line x1="574.00" y1="376.45" x2="574.00" y2="382.00" stroke="#000" stroke-width="1.07" />
<text x="574.00" y="395.20" font-size="10.3" text-anchor="middle" fill="#111" stroke="#111" stroke-width="0.15" textLength="11.20" lengthAdjust="spacingAndGlyphs">10</text>
<line x1="606.74" y1="376.45" x2="606.74" y2="382.00" stroke="#000" stroke-width="1.07" />
<text x="606.74" y="395.20" font-size="10.3" text-anchor="middle" fill="#111" stroke="#111" stroke-width="0.15" textLength="11.20" lengthAdjust="spacingAndGlyphs">12</text>
<line x1="639.48" y1="376.45" x2="639.48" y2="382.00" stroke="#000" stroke-width="1.07" />
<text x="639.48" y="395.20" font-size="10.3" text-anchor="middle" fill="#111" stroke="#111" stroke-width="0.15" textLength="11.20" lengthAdjust="spacingAndGlyphs">14</text>
<line x1="672.22" y1="376.45" x2="672.22" y2="382.00" stroke="#000" stroke-width="1.07" />
<text x="672.22" y="395.20" font-size="10.3" text-anchor="middle" fill="#111" stroke="#111" stroke-width="0.15" textLength="11.20" lengthAdjust="spacingAndGlyphs">16</text>
<text x="540.60" y="412.90" font-size="13.1" text-anchor="middle" fill="#111" stroke="#111" stroke-width="0.15" textLength="104.00" lengthAdjust="spacingAndGlyphs">Time (trimester)</text>
<text x="367.00" y="295.30" font-size="13.1" text-anchor="middle" fill="#111" stroke="#111" stroke-width="0.15" textLength="103.40" lengthAdjust="spacingAndGlyphs" transform="rotate(-90 367.00 295.30)">Downloads (log)</text>
<path d="M410.30,341.40 L426.67,315.40 L443.04,300.20 L459.41,288.80 L475.78,280.40 L492.15,272.30 L508.52,264.70 L524.89,258.50 L541.26,252.80 L557.63,247.70 L574.00,243.10 L590.37,239.80 L606.74,236.60 L623.11,232.50 L639.48,228.30 L655.85,225.00 L672.22,221.85 L672.22,231.55 L655.85,234.40 L639.48,237.30 L623.11,240.50 L606.74,243.80 L590.37,246.80 L574.00,249.90 L557.63,254.10 L541.26,258.80 L524.89,264.10 L508.52,269.90 L492.15,277.30 L475.78,285.20 L459.41,293.40 L443.04,304.60 L426.67,319.60 L410.30,346.40 Z" fill="#2ca02c" fill-opacity="0.2"/>
<path d="M410.30,363.10 L426.67,330.70 L443.04,316.70 L459.41,306.00 L475.78,297.80 L492.15,290.50 L508.52,284.10 L524.89,278.70 L541.26,273.80 L557.63,269.90 L574.00,266.50 L590.37,263.10 L606.74,259.80 L623.11,257.20 L639.48,254.70 L655.85,251.70 L672.22,249.00 L672.22,253.80 L655.85,256.50 L639.48,259.30 L623.11,261.80 L606.74,264.20 L590.37,267.50 L574.00,270.90 L557.63,274.10 L541.26,277.80 L524.89,282.70 L508.52,288.10 L492.15,294.30 L475.78,301.60 L459.41,309.80 L443.04,320.50 L426.67,334.90 L410.30,369.70 Z" fill="#9467bd" fill-opacity="0.2"/>
<polyline points="410.30,343.90 426.67,317.50 443.04,302.40 459.41,291.10 475.78,282.80 492.15,274.80 508.52,267.30 524.89,261.30 541.26,255.80 557.63,250.90 574.00,246.50 590.37,243.30 606.74,240.20 623.11,236.50 639.48,232.80 655.85,229.70 672.22,226.70" fill="none" stroke="#2ca02c" stroke-width="1.45"/>
<polyline points="410.30,366.40 426.67,332.80 443.04,318.60 459.41,307.90 475.78,299.70 492.15,292.40 508.52,286.10 524.89,280.70 541.26,275.80 557.63,272.00 574.00,268.70 590.37,265.30 606.74,262.00 623.11,259.50 639.48,257.00 655.85,254.10 672.22,251.40" fill="none" stroke="#9467bd" stroke-width="1.45"/>
<line x1="405.30" y1="228.00" x2="425.90" y2="228.00" stroke="#2ca02c" stroke-width="1.6" />
<line x1="405.30" y1="242.00" x2="425.90" y2="242.00" stroke="#9467bd" stroke-width="1.6" />
<text x="433.30" y="231.10" font-size="10.3" text-anchor="start" fill="#111" stroke="#111" stroke-width="0.15" textLength="58.70" lengthAdjust="spacingAndGlyphs">Experienced</text>
<text x="433.30" y="245.30" font-size="10.3" text-anchor="start" fill="#111" stroke="#111" stroke-width="0.15" textLength="78.80" lengthAdjust="spacingAndGlyphs">Not experienced</text>
</svg>
</body></html>
